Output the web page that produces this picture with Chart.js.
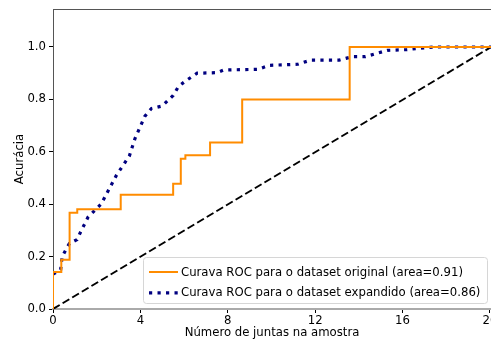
<!DOCTYPE html>
<html>
<head>
<meta charset="utf-8">
<script src="https://cdn.jsdelivr.net/npm/chart.js@4/dist/chart.umd.min.js"></script>
<style>
  html, body { margin: 0; padding: 0; background: #fff; }
  canvas { display: block; }
</style>
</head>
<body>
<canvas id="rocChart" width="491" height="346"></canvas>
<script>
// ===== Data =====
const origX = [0, 0, 0.38, 0.76, 1.11, 3.10, 5.50, 5.85, 6.06, 7.19, 8.66, 13.58, 20.05];
const origY = [0, 0.141, 0.188, 0.367, 0.381, 0.436, 0.478, 0.573, 0.587, 0.635, 0.80, 1.0, 1.0];

const expX = [0, 0.35, 0.42, 0.75, 1.1, 1.3, 1.6, 2.2, 2.9, 3.3, 3.5, 3.75, 4.2, 4.5, 5.0, 5.5, 5.75,
  6.1, 6.6, 7.5, 7.8, 9.4, 9.9, 11.2, 11.8, 13.1, 13.7, 14.3, 15.3, 16.2, 17.0, 17.5, 20.05];
const expY = [0.133, 0.15, 0.2, 0.25, 0.265, 0.3, 0.35, 0.4, 0.51, 0.56, 0.585, 0.65, 0.735, 0.765, 0.775, 0.815, 0.85,
  0.872, 0.9, 0.902, 0.912, 0.915, 0.93, 0.934, 0.95, 0.95, 0.963, 0.963, 0.987, 0.99, 0.997, 1.0, 1.0];

const diagX = [0, 20.05];
const diagY = [0, 1];

const xTicks = [0, 4, 8, 12, 16, 20];
const yTicks = [0, 0.2, 0.4, 0.6, 0.8, 1.0];

const labelOrig = "Curava ROC para o dataset original (area=0.91)";
const labelExp = "Curava ROC para o dataset expandido (area=0.86)";

const FONT = "DejaVu Sans";
const FONT_SIZE = 11.7;
const toPoints = (xs, ys) => xs.map((x, i) => ({ x: x, y: ys[i] }));

// ===== Legend box (matplotlib style, lower right) =====
const legendBox = {
  id: "legendBox",
  afterDraw(chart) {
    const { ctx, chartArea } = chart;
    const items = chart.data.datasets.filter(d => d.label);
    const w = 344, h = 46;
    const right = chartArea.right - 4, bottom = chartArea.bottom - 6;
    const left = right - w, top = bottom - h;

    ctx.save();
    ctx.beginPath();
    ctx.roundRect(left + 0.5, top + 0.5, w, h, 3);
    ctx.fillStyle = "rgba(255,255,255,0.8)";
    ctx.fill();
    ctx.strokeStyle = "#d6d6d6";
    ctx.lineWidth = 1;
    ctx.stroke();

    ctx.font = FONT_SIZE + "px '" + FONT + "'";
    ctx.textBaseline = "middle";
    items.forEach((ds, i) => {
      const y = top + 15 + i * 20.8;
      ctx.beginPath();
      ctx.strokeStyle = ds.borderColor;
      ctx.lineWidth = ds.borderWidth;
      ctx.setLineDash(ds.borderDash || []);
      ctx.lineCap = "butt";
      ctx.moveTo(left + 6, y);
      ctx.lineTo(left + 35, y);
      ctx.stroke();
      ctx.setLineDash([]);
      ctx.fillStyle = "#000";
      ctx.fillText(ds.label, left + 38, y + 0.5);
    });
    ctx.restore();
  }
};

// top spine
const topSpine = {
  id: "topSpine",
  afterDraw(chart) {
    const { ctx, chartArea } = chart;
    ctx.save();
    ctx.strokeStyle = "#555";
    ctx.lineWidth = 1;
    ctx.beginPath();
    ctx.moveTo(chartArea.left, chartArea.top + 0.5);
    ctx.lineTo(chartArea.right, chartArea.top + 0.5);
    ctx.stroke();
    ctx.restore();
  }
};

// ===== Chart =====
const ctx = document.getElementById("rocChart").getContext("2d");

new Chart(ctx, {
  type: "line",
  data: {
    datasets: [
      {
        label: labelOrig,
        data: toPoints(origX, origY),
        borderColor: "#ff8c00",
        borderWidth: 2,
        stepped: "before",
        pointRadius: 0,
        fill: false
      },
      {
        label: labelExp,
        data: toPoints(expX, expY),
        borderColor: "#000080",
        borderWidth: 3.2,
        borderDash: [3.2, 5.3],
        tension: 0,
        pointRadius: 0,
        fill: false
      },
      {
        label: "",
        data: toPoints(diagX, diagY),
        borderColor: "#000",
        borderWidth: 2,
        borderDash: [7.8, 3.4],
        pointRadius: 0,
        fill: false
      }
    ]
  },
  options: {
    responsive: false,
    animation: false,
    layout: { autoPadding: false, padding: { top: 9, right: 0, left: 0, bottom: 0 } },
    plugins: {
      legend: { display: false },
      tooltip: { enabled: false }
    },
    scales: {
      x: {
        type: "linear",
        min: 0,
        max: 20.05,
        afterBuildTicks: s => { s.ticks = xTicks.map(v => ({ value: v })); },
        afterFit: s => { s.height = 37; s.paddingLeft = 0; s.paddingRight = 0; },
        grid: { drawOnChartArea: false, tickLength: 4, tickColor: "#000" },
        border: { color: "#aaa", width: 2 },
        ticks: {
          color: "#000",
          padding: 1,
          maxRotation: 0,
          font: { family: FONT, size: FONT_SIZE },
          callback: v => String(v)
        },
        title: {
          display: true,
          text: "Número de juntas na amostra",
          color: "#000",
          font: { family: FONT, size: FONT_SIZE },
          padding: { top: 0, bottom: 6 }
        }
      },
      y: {
        type: "linear",
        min: 0,
        max: 1.145,
        afterBuildTicks: s => { s.ticks = yTicks.map(v => ({ value: v })); },
        afterFit: s => { s.width = 53; s.paddingTop = 0; s.paddingBottom = 0; },
        grid: { drawOnChartArea: false, tickLength: 4, tickColor: "#000" },
        border: { color: "#555", width: 1 },
        ticks: {
          color: "#000",
          padding: 3,
          font: { family: FONT, size: FONT_SIZE },
          callback: v => v.toFixed(1)
        },
        title: {
          display: true,
          text: "Acurácia",
          color: "#000",
          font: { family: FONT, size: FONT_SIZE },
          padding: { top: 13, bottom: 2 }
        }
      }
    }
  },
  plugins: [legendBox, topSpine]
});
</script>
</body>
</html>
